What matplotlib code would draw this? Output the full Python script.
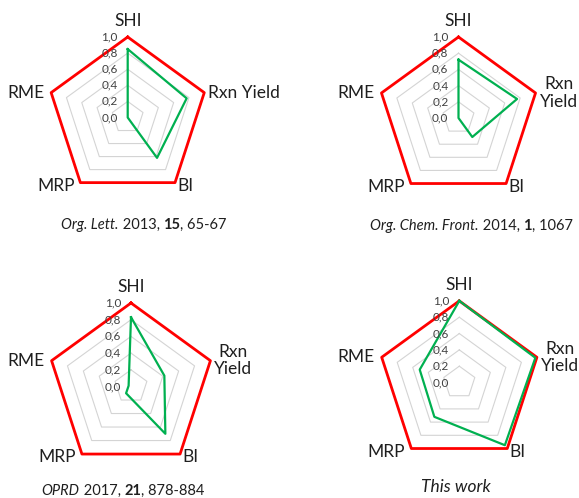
import numpy as np
import matplotlib.pyplot as plt

plt.rcParams['font.family'] = 'Lato'

# metrics around the pentagon (clockwise from top)
metrics = ['SHI', 'Rxn Yield', 'BI', 'MRP', 'RME']
levels = [0.0, 0.2, 0.4, 0.6, 0.8, 1.0]
level_labels = ['0,0', '0,2', '0,4', '0,6', '0,8', '1,0']
max_values = [1.0, 1.0, 1.0, 1.0, 1.0]

org_lett = [0.85, 0.77, 0.62, 0.0, 0.0]
org_chem_front = [0.72, 0.76, 0.29, 0.0, 0.0]
oprd = [0.83, 0.42, 0.70, 0.10, 0.03]
this_work = [1.0, 0.98, 0.95, 0.52, 0.51]

# captions as (text, style) pieces: i = italic, b = bold, r = regular
captions = [
    [('Org. Lett.', 'i'), (' 2013, ', 'r'), ('15', 'b'), (', 65-67', 'r')],
    [('Org. Chem. Front.', 'i'), (' 2014, ', 'r'), ('1', 'b'), (', 1067', 'r')],
    [('OPRD', 'i'), (' 2017, ', 'r'), ('21', 'b'), (', 878-884', 'r')],
    [('This work', 'i')],
]

W, H = 579, 498
# (centre x, centre y from top, radius) in pixels, caption (x, y from top, size)
panels = [
    ((127.7, 117.5, 80.5), (144, 225, 10.5), org_lett, 'Rxn Yield'),
    ((458.5, 118.0, 81.0), (471.5, 226, 10.5), org_chem_front, 'Rxn\nYield'),
    ((131.0, 386.5, 83.5), (123, 490.5, 10.5), oprd, 'Rxn\nYield'),
    ((459.3, 382.5, 81.6), (456, 487, 12.5), this_work, 'Rxn\nYield'),
]

label_color = '#1f1f1f'


def close(vals):
    return list(vals) + [vals[0]]


def draw_radar(ax, values, rxn_label):
    theta = np.deg2rad(np.arange(len(metrics)) * 72.0)
    ax.set_theta_offset(np.pi / 2)
    ax.set_theta_direction(-1)
    ax.set_ylim(0, 1)
    ax.set_axis_off()

    t = close(theta)
    for lv in levels[1:-1]:
        ax.plot(t, [lv] * len(t), color='#d4d4d4', lw=0.8)
    ax.plot(t, close(max_values), color='#ff0000', lw=2.0, clip_on=False)
    ax.plot(t, close(values), color='#00b050', lw=1.6, clip_on=False)

    # value labels left of the SHI spoke
    for lv, lab in zip(levels, level_labels):
        ax.annotate(lab, xy=(0, lv), xytext=(-10, 0), textcoords='offset pixels',
                    ha='right', va='center', fontsize=8.5, color='#404040')

    names = [metrics[0], rxn_label] + metrics[2:]
    offsets = [(0, 16), (4, 0), (2, -3), (-6, -3), (-7, 0)]
    aligns = ['center', 'left', 'left', 'right', 'right']
    for th, name, off, ha in zip(theta, names, offsets, aligns):
        ax.annotate(name, xy=(th, 1.0), xytext=off, textcoords='offset pixels',
                    ha=ha, va='center', multialignment='center',
                    fontsize=12.5, color=label_color, linespacing=1.1)


def draw_caption(fig, pieces, x, y, size):
    """Write mixed-style pieces side by side, centred on pixel x."""
    renderer = fig.canvas.get_renderer()
    texts = []
    for s, style in pieces:
        t = fig.text(0, 1 - y / H, s, fontsize=size, color=label_color,
                     va='center', ha='left',
                     fontstyle='italic' if style == 'i' else 'normal',
                     fontweight='bold' if style == 'b' else 'normal')
        texts.append(t)
    widths = [t.get_window_extent(renderer).width for t in texts]
    left = x - sum(widths) / 2
    for t, w in zip(texts, widths):
        t.set_x(left / W)
        left += w


fig = plt.figure(figsize=(W / 100, H / 100), dpi=100)
for (cx, cy, r), _, vals, rxn in panels:
    ax = fig.add_axes([(cx - r) / W, (H - cy - r) / H, 2 * r / W, 2 * r / H],
                      projection='polar')
    draw_radar(ax, vals, rxn)

for (_, (tx, ty, fs), _, _), cap in zip(panels, captions):
    draw_caption(fig, cap, tx, ty, fs)

fig.savefig('out.png', dpi=100)
